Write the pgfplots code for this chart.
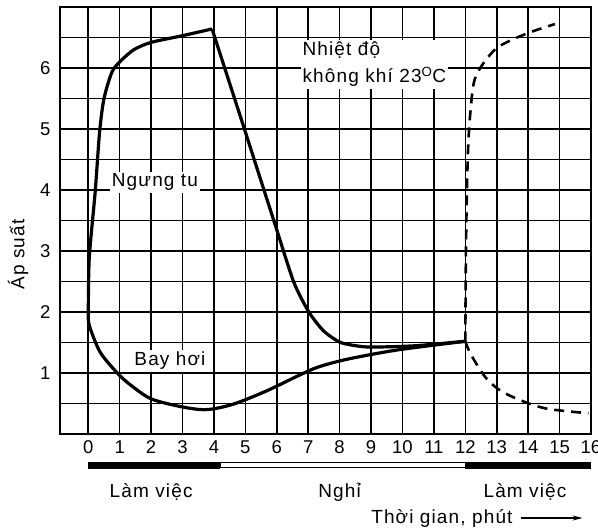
\documentclass[border=0pt]{standalone}
\usepackage{fontspec}
\setmainfont{Liberation Sans}
\usepackage{pgfplots}
\pgfplotsset{compat=1.18}
\usetikzlibrary{arrows.meta}
\newcommand{\lbl}{\fontsize{19}{27}\selectfont\addfontfeatures{LetterSpace=6}}
\begin{document}
\begin{tikzpicture}
\begin{axis}[
  scale only axis,
  width=531pt, height=427pt,
  xmin=-0.9, xmax=16, ymin=0, ymax=7,
  xtick={0,...,16},
  ytick={1,...,6},
  minor ytick={0.5,1.5,...,6.5},
  grid=both,
  major grid style={black, line width=1.6pt},
  minor grid style={black, line width=1.6pt},
  major tick length=0pt, minor tick length=0pt,
  axis line style={line width=2.6pt},
  /pgf/number format/assume math mode=true,
  ticklabel style={font=\fontsize{18.5}{20}\selectfont},
  xticklabel style={yshift=-3pt},
  yticklabel style={xshift=-6pt},
  clip=false,
]
% Ngung tu: rising part
\addplot[line width=3.2pt, smooth, tension=0.45] coordinates {
  (0,1.9) (0.03,2.87) (0.22,3.97) (0.36,4.95) (0.5,5.5) (0.75,5.93)
  (1.0,6.1) (1.45,6.3) (2.0,6.42) (3.0,6.53) (3.94,6.64)
};
% Ngung tu: falling part
\addplot[line width=3.2pt, smooth, tension=0.4] coordinates {
  (3.94,6.64) (5,4.95) (5.96,3.41) (6.54,2.49) (7.02,2.0) (7.49,1.69)
  (8.03,1.5) (8.77,1.43) (9.6,1.43) (10.5,1.45) (12,1.52)
};
% Bay hoi
\addplot[line width=3.2pt, smooth, tension=0.5] coordinates {
  (0,1.9) (0.05,1.75) (0.38,1.34) (0.96,0.98) (1.43,0.77) (2.03,0.57)
  (3.03,0.44) (3.78,0.4) (4.62,0.49) (5.69,0.71) (6.7,0.96) (7.33,1.1)
  (8.28,1.23) (9.87,1.38) (12,1.52)
};
% dashed rise
\addplot[line width=2.6pt, dash pattern=on 10pt off 7pt, smooth, tension=0.5] coordinates {
  (12,1.52) (12.02,3.0) (12.06,4.2) (12.12,5.0) (12.26,5.73) (12.5,6.02)
  (12.96,6.31) (13.47,6.46) (14.14,6.6) (14.85,6.72)
};
% dashed fall
\addplot[line width=2.6pt, dash pattern=on 10pt off 7pt, smooth, tension=0.5] coordinates {
  (12,1.52) (12.17,1.31) (12.64,0.93) (13.15,0.7) (13.92,0.52)
  (14.65,0.41) (15.92,0.34)
};
\node[anchor=north west, fill=white, inner sep=2pt, align=left, font=\lbl]
  at (axis cs:6.75,6.46) {Nhiệt độ\\không khí 23\textsuperscript{O}C};
\node[anchor=west, fill=white, inner sep=2pt, font=\lbl] at (axis cs:0.68,4.13) {Ngưng tu};
\node[anchor=west, fill=white, inner sep=2pt, font=\lbl] at (axis cs:1.4,1.2) {Bay hơi};
% working / rest bar
\fill ([yshift=-28pt]axis cs:0,0) rectangle ([yshift=-35pt]axis cs:4.2,0);
\draw[line width=1pt] ([yshift=-28.5pt]axis cs:4.2,0) rectangle ([yshift=-34pt]axis cs:12,0);
\fill ([yshift=-28pt]axis cs:12,0) rectangle ([yshift=-35pt]axis cs:16,0);
\node[font=\lbl] at ([yshift=-58pt]axis cs:2,0) {Làm việc};
\node[font=\lbl] at ([yshift=-58pt]axis cs:8,0) {Nghỉ};
\node[font=\lbl] at ([yshift=-58pt]axis cs:13.9,0) {Làm việc};
\node[font=\lbl, anchor=west, inner sep=0pt] at ([yshift=-84pt]axis cs:9.0,0) {Thời gian, phút};
\draw[line width=1.4pt, -{Stealth[length=10pt,width=5pt]}]
  ([yshift=-84pt]axis cs:13.76,0) -- ([yshift=-84pt]axis cs:15.73,0);
\node[font=\lbl, rotate=90] at ([xshift=-42pt]axis description cs:0,0.42) {Áp suất};
\end{axis}
\pgfresetboundingbox
\useasboundingbox (-60pt,-96pt) rectangle (538pt,434pt);
\end{tikzpicture}
\end{document}
